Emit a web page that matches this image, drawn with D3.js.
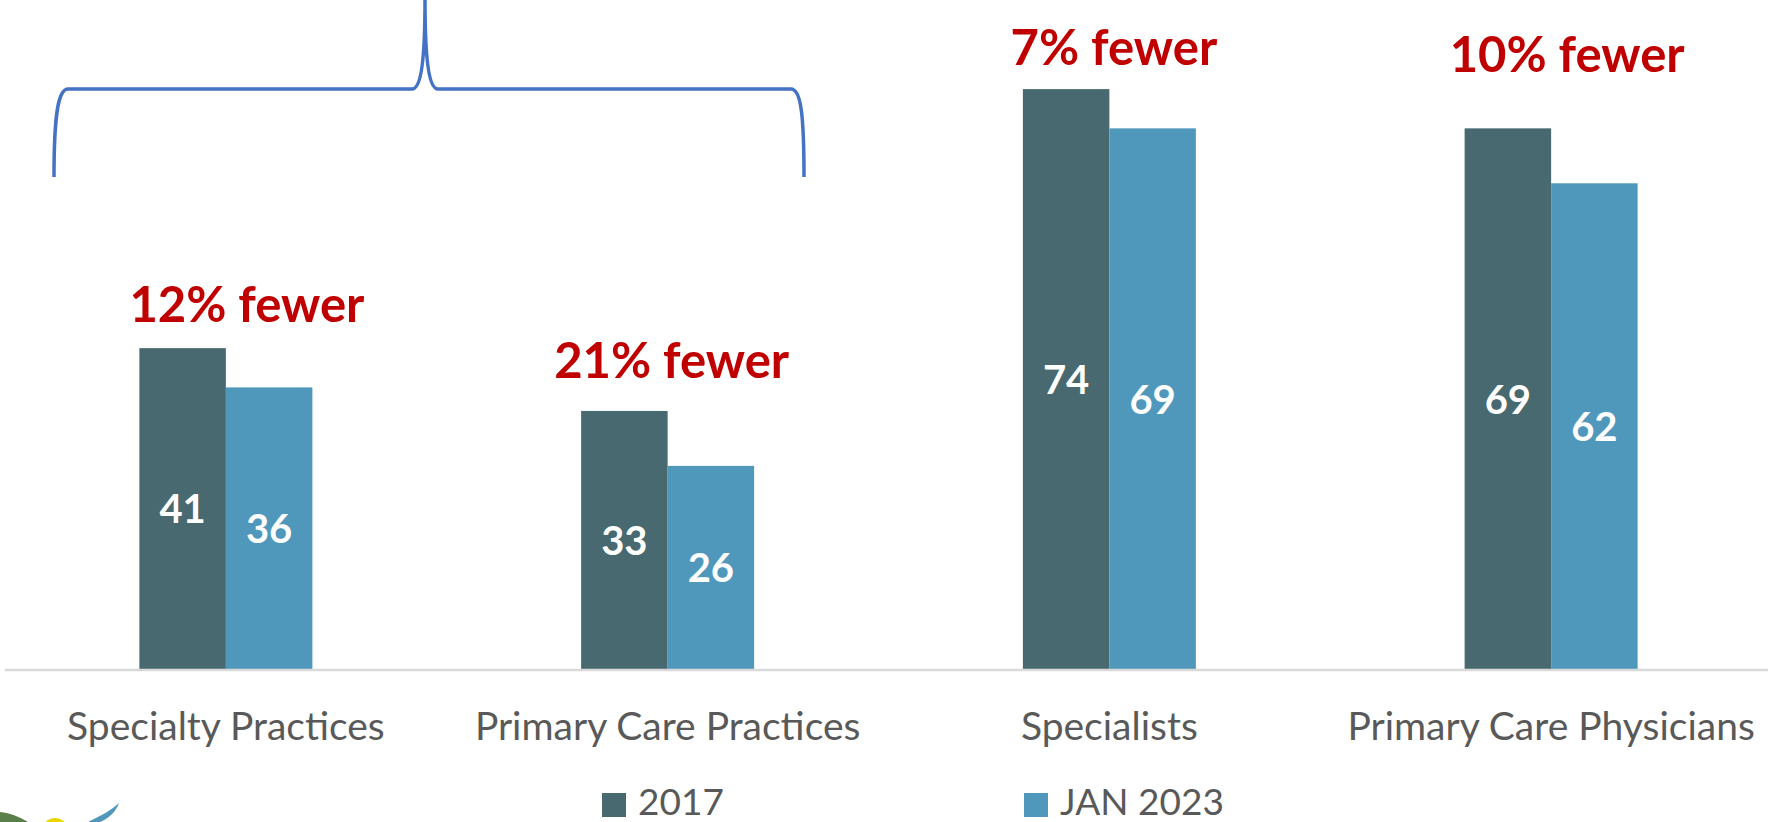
<!DOCTYPE html>
<html>
<head>
<meta charset="utf-8">
<script src="https://cdn.jsdelivr.net/npm/d3@7"></script>
<style>
  body { margin: 0; background: #fff; }
  svg { display: block; }
</style>
</head>
<body>
<script>
// data
const categories = ["Specialty Practices", "Primary Care Practices", "Specialists", "Primary Care Physicians"];
const series = ["2017", "JAN 2023"];
const values2017 = [41, 33, 74, 69];
const valuesJan2023 = [36, 26, 69, 62];
const changeLabels = ["12% fewer", "21% fewer", "7% fewer", "10% fewer"];

const seriesColors = ["#47696f", "#4f98bc"];
const font = "Lato, 'Open Sans', sans-serif";

let canvasW = 1768;
let canvasH = 822;
let baseY = 670;

let svg = d3.select("body")
  .append("svg")
    .attr("width", canvasW)
    .attr("height", canvasH)
    .style("background-color", "#fff");

let x0 = d3.scaleBand()
  .domain(categories)
  .range([5, 1772]);

let groupW = 173;
let x1 = d3.scaleBand()
  .domain(series)
  .range([0, groupW]);

let yScale = d3.scaleLinear()
  .domain([0, 80])
  .range([baseY, baseY - 628]);

let rows = [];
categories.forEach((c, i) => {
  rows.push({ cat: c, s: series[0], v: values2017[i], idx: 0 });
  rows.push({ cat: c, s: series[1], v: valuesJan2023[i], idx: 1 });
});

const barX = d => x0(d.cat) + x0.bandwidth() / 2 - groupW / 2 + x1(d.s);

// bars
svg.append("g")
  .selectAll("rect")
  .data(rows)
  .join("rect")
    .attr("x", barX)
    .attr("y", d => yScale(d.v))
    .attr("width", x1.bandwidth())
    .attr("height", d => baseY - yScale(d.v))
    .attr("fill", d => seriesColors[d.idx]);

// value labels in the middle of each bar
svg.append("g")
  .selectAll("text")
  .data(rows)
  .join("text")
    .attr("x", d => barX(d) + x1.bandwidth() / 2)
    .attr("y", d => (yScale(d.v) + baseY) / 2)
    .attr("dy", "0.36em")
    .attr("text-anchor", "middle")
    .attr("font-family", font)
    .attr("font-weight", "bold")
    .attr("font-size", "40px")
    .attr("fill", "#fff")
    .text(d => d.v);

// x axis
const xAxis = svg.append("g")
  .attr("transform", `translate(0,${baseY})`)
  .call(d3.axisBottom(x0).tickSize(0).tickSizeOuter(0).tickPadding(42));
xAxis.select(".domain")
  .attr("d", `M5,0H${canvasW}`)
  .attr("stroke", "#d9d9d9")
  .attr("stroke-width", 2.5);
xAxis.selectAll("text")
  .attr("font-family", font)
  .attr("font-size", "39px")
  .attr("fill", "#595959");

// red "% fewer" notes, placed like the text boxes in the original
const notePos = [
  { dx: 21, v: 44.3 },
  { dx: 4, v: 37.2 },
  { dx: 4.5, v: 77.1 },
  { dx: 16, v: 76.2 }
];
svg.append("g")
  .selectAll("text")
  .data(changeLabels)
  .join("text")
    .attr("x", (d, i) => x0(categories[i]) + x0.bandwidth() / 2 + notePos[i].dx)
    .attr("y", (d, i) => yScale(notePos[i].v))
    .attr("text-anchor", "middle")
    .attr("font-family", font)
    .attr("font-weight", "bold")
    .attr("font-size", "49px")
    .attr("fill", "#c00000")
    .text(d => d);

// curly brace over the two practice groups
svg.append("path")
  .attr("d", "M54,177 C54,115 58,89 68,89 L412,89 C421,89 425,60 425,0 M425,0 C425,60 429,89 438,89 L791,89 C801,89 804,115 804,177")
  .attr("fill", "none")
  .attr("stroke", "#4472c4")
  .attr("stroke-width", 3.5);

// legend
let legendX = d3.scaleBand()
  .domain(series)
  .range([602, 1446]);
let legend = svg.append("g")
  .selectAll("g")
  .data(series)
  .join("g")
    .attr("transform", d => `translate(${legendX(d)},793)`);
legend.append("rect")
  .attr("width", 24)
  .attr("height", 24)
  .attr("fill", (d, i) => seriesColors[i]);
legend.append("text")
  .attr("x", 36)
  .attr("y", 22)
  .attr("font-family", font)
  .attr("font-size", "37px")
  .attr("fill", "#595959")
  .text(d => d);

// bits of the logo peeking in at bottom left
let logo = svg.append("g");
logo.append("path")
  .attr("d", "M0,812 C10,813 20,817 28,822 L0,822 Z")
  .attr("fill", "#5b7f4a");
logo.append("circle")
  .attr("cx", 55)
  .attr("cy", 831)
  .attr("r", 13)
  .attr("fill", "#e8d600");
logo.append("path")
  .attr("d", "M88,822 C100,816 112,810 119,803 C116,812 108,819 100,822 Z")
  .attr("fill", "#4f98bc");
</script>
</body>
</html>
